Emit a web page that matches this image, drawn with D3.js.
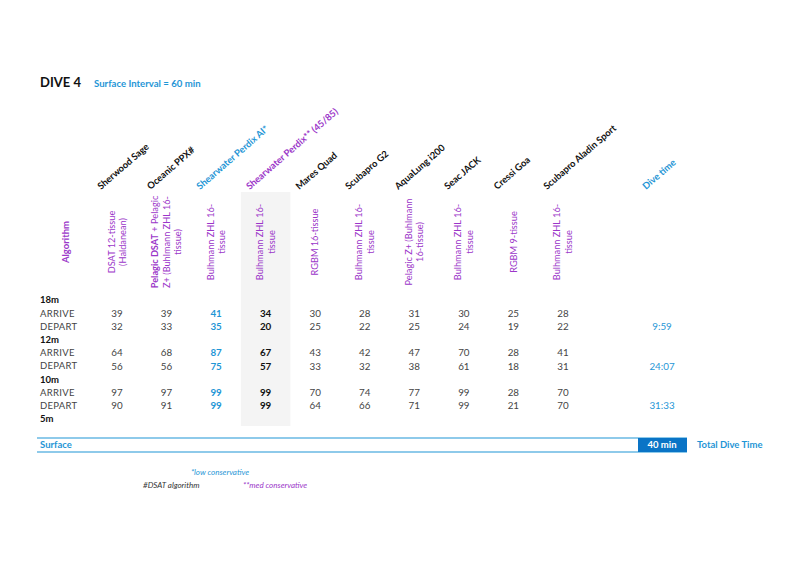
<!DOCTYPE html>
<html><head><meta charset="utf-8">
<script src="https://cdn.jsdelivr.net/npm/d3@7/dist/d3.min.js"></script>
<style>body{margin:0;background:#fff}svg{display:block;font-family:Lato,"Open Sans",sans-serif}</style>
</head><body><svg id="c" width="800" height="566"></svg>
<script>
const devices = ["Sherwood Sage","Oceanic PPX#","Shearwater Perdix AI*","Shearwater Perdix** (45/85)","Mares Quad","Scubapro G2","AquaLung i200","Seac JACK","Cressi Goa","Scubapro Aladin Sport"];
const algorithms = [["DSAT 12-tissue","(Haldanean)"],["Pelagic DSAT + Pelagic","Z+ (Buhlmann ZHL 16-","tissue)"],["Bulhmann ZHL 16-","tissue"],["Bulhmann ZHL 16-","tissue"],["RGBM 16-tissue"],["Bulhmann ZHL 16-","tissue"],["Pelagic Z+ (Buhlmann","16-tissue)"],["Bulhmann ZHL 16-","tissue"],["RGBM 9-tissue"],["Bulhmann ZHL 16-","tissue"]];
const stops = ["18m","12m","10m"];
const arrive = [
  [39,39,41,34,30,28,31,30,25,28],
  [64,68,87,67,43,42,47,70,28,41],
  [97,97,99,99,70,74,77,99,28,70]];
const depart = [
  [32,33,35,20,25,22,25,24,19,22],
  [56,56,75,57,33,32,38,61,18,31],
  [90,91,99,99,64,66,71,99,21,70]];
const diveTimes = ["9:59","24:07","31:33"];
const finalStop = "5m";
const totalDiveTime = "40 min";

const BLUE="#1f96d6", PURPLE="#9b36c9", GREY="#444", DARKBLUE="#0a74c6";
const svg=d3.select("#c");

const colKeys = d3.range(12);
const x = d3.scalePoint().domain(colKeys).range([117,662]);
const rowKeys = [];
stops.forEach((s,i)=>{rowKeys.push("h"+i,"a"+i,"d"+i);});
rowKeys.push("h3");
const y = d3.scalePoint().domain(rowKeys).range([300,419]);
const step = x.step();

// grey highlight column
svg.append("rect").attr("x",x(3)-step/2).attr("y",192).attr("width",step).attr("height",234).attr("fill","#f4f4f4");

// title
svg.append("text").attr("x",40).attr("y",87).attr("font-size",13).attr("font-weight","bold").attr("fill","#111").text("DIVE 4");
svg.append("text").attr("x",94).attr("y",86.5).attr("font-size",9.6).attr("font-weight","bold").attr("fill",BLUE).text("Surface Interval = 60 min");

// device headers
const devColor = (i)=> i===2?BLUE:(i===3?PURPLE:"#111");
svg.selectAll("text.dev").data(devices).join("text").attr("class","dev")
  .attr("transform",(d,i)=>`translate(${x(i)-16},190) rotate(-41)`)
  .attr("font-size",9.4).attr("font-weight","bold").attr("fill",(d,i)=>devColor(i)).text(d=>d);
svg.append("text").attr("transform",`translate(${x(11)-16},190) rotate(-41)`)
  .attr("font-size",9.4).attr("font-weight","bold").attr("fill",BLUE).text("Dive time");

// Algorithm header
svg.append("text").attr("transform",`translate(69,242) rotate(-90)`).attr("text-anchor","middle")
  .attr("font-size",9.5).attr("font-weight","bold").attr("fill",PURPLE).text("Algorithm");

// algorithm labels
algorithms.forEach((lines,i)=>{
  const n=lines.length, lh=11.5;
  lines.forEach((ln,j)=>{
    const off=(j-(n-1)/2)*lh;
    const t=svg.append("text").attr("transform",`translate(${x(i)+off+3.3},242) rotate(-90)`)
      .attr("text-anchor","middle").attr("font-size",9.2).attr("fill",PURPLE);
    if(i===1&&j===0){
      t.append("tspan").attr("font-weight","bold").text("Pelagic DSAT");
      t.append("tspan").text(" + Pelagic");
    } else t.text(ln);
  });
});

// rows
const valStyle=(i)=> i===2?{c:BLUE,w:"bold"}:(i===3?{c:"#111",w:"bold"}:{c:GREY,w:"normal"});
stops.forEach((s,k)=>{
  svg.append("text").attr("x",40).attr("y",y("h"+k)).attr("dy","0.35em").attr("font-size",9.5).attr("font-weight","bold").attr("fill","#111").text(s);
  [["ARRIVE",arrive[k],"a"],["DEPART",depart[k],"d"]].forEach(([lab,vals,p])=>{
    const yy=y(p+k);
    svg.append("text").attr("x",40).attr("y",yy).attr("dy","0.35em").attr("font-size",9.5).attr("fill",GREY).attr("letter-spacing","0.3").text(lab);
    svg.selectAll(null).data(vals).join("text").attr("x",(d,i)=>x(i)).attr("y",yy).attr("dy","0.35em")
      .attr("text-anchor","middle").attr("font-size",9.8)
      .attr("font-weight",(d,i)=>valStyle(i).w).attr("fill",(d,i)=>valStyle(i).c).text(d=>d);
  });
  svg.append("text").attr("x",x(11)).attr("y",y("d"+k)).attr("dy","0.35em").attr("text-anchor","middle")
    .attr("font-size",9.8).attr("fill",BLUE).text(diveTimes[k]);
});
svg.append("text").attr("x",40).attr("y",y("h3")).attr("dy","0.35em").attr("font-size",9.5).attr("font-weight","bold").attr("fill","#111").text(finalStop);

// surface band
const sy0=438, sy1=452;
svg.append("line").attr("x1",37).attr("x2",687).attr("y1",sy0).attr("y2",sy0).attr("stroke",BLUE).attr("stroke-width",1.2);
svg.append("line").attr("x1",37).attr("x2",687).attr("y1",sy1).attr("y2",sy1).attr("stroke",BLUE).attr("stroke-width",1.2);
svg.append("rect").attr("x",638).attr("y",sy0).attr("width",49).attr("height",sy1-sy0).attr("fill",DARKBLUE);
svg.append("text").attr("x",40).attr("y",(sy0+sy1)/2).attr("dy","0.35em").attr("font-size",9.5).attr("font-weight","bold").attr("fill",BLUE).text("Surface");
svg.append("text").attr("x",662).attr("y",(sy0+sy1)/2).attr("dy","0.35em").attr("text-anchor","middle").attr("font-size",9.5).attr("font-weight","bold").attr("fill","#fff").text(totalDiveTime);
svg.append("text").attr("x",697).attr("y",(sy0+sy1)/2).attr("dy","0.35em").attr("font-size",9.5).attr("font-weight","bold").attr("fill",BLUE).text("Total Dive Time");

// footnotes
svg.append("text").attr("x",220).attr("y",475).attr("text-anchor","middle").attr("font-size",8).attr("font-style","italic").attr("fill",BLUE).text("*low conservative");
svg.append("text").attr("x",143).attr("y",488).attr("font-size",8).attr("font-style","italic").attr("fill","#333").text("#DSAT algorithm");
svg.append("text").attr("x",243).attr("y",488).attr("font-size",8).attr("font-style","italic").attr("fill",PURPLE).text("**med conservative");
</script></body></html>
